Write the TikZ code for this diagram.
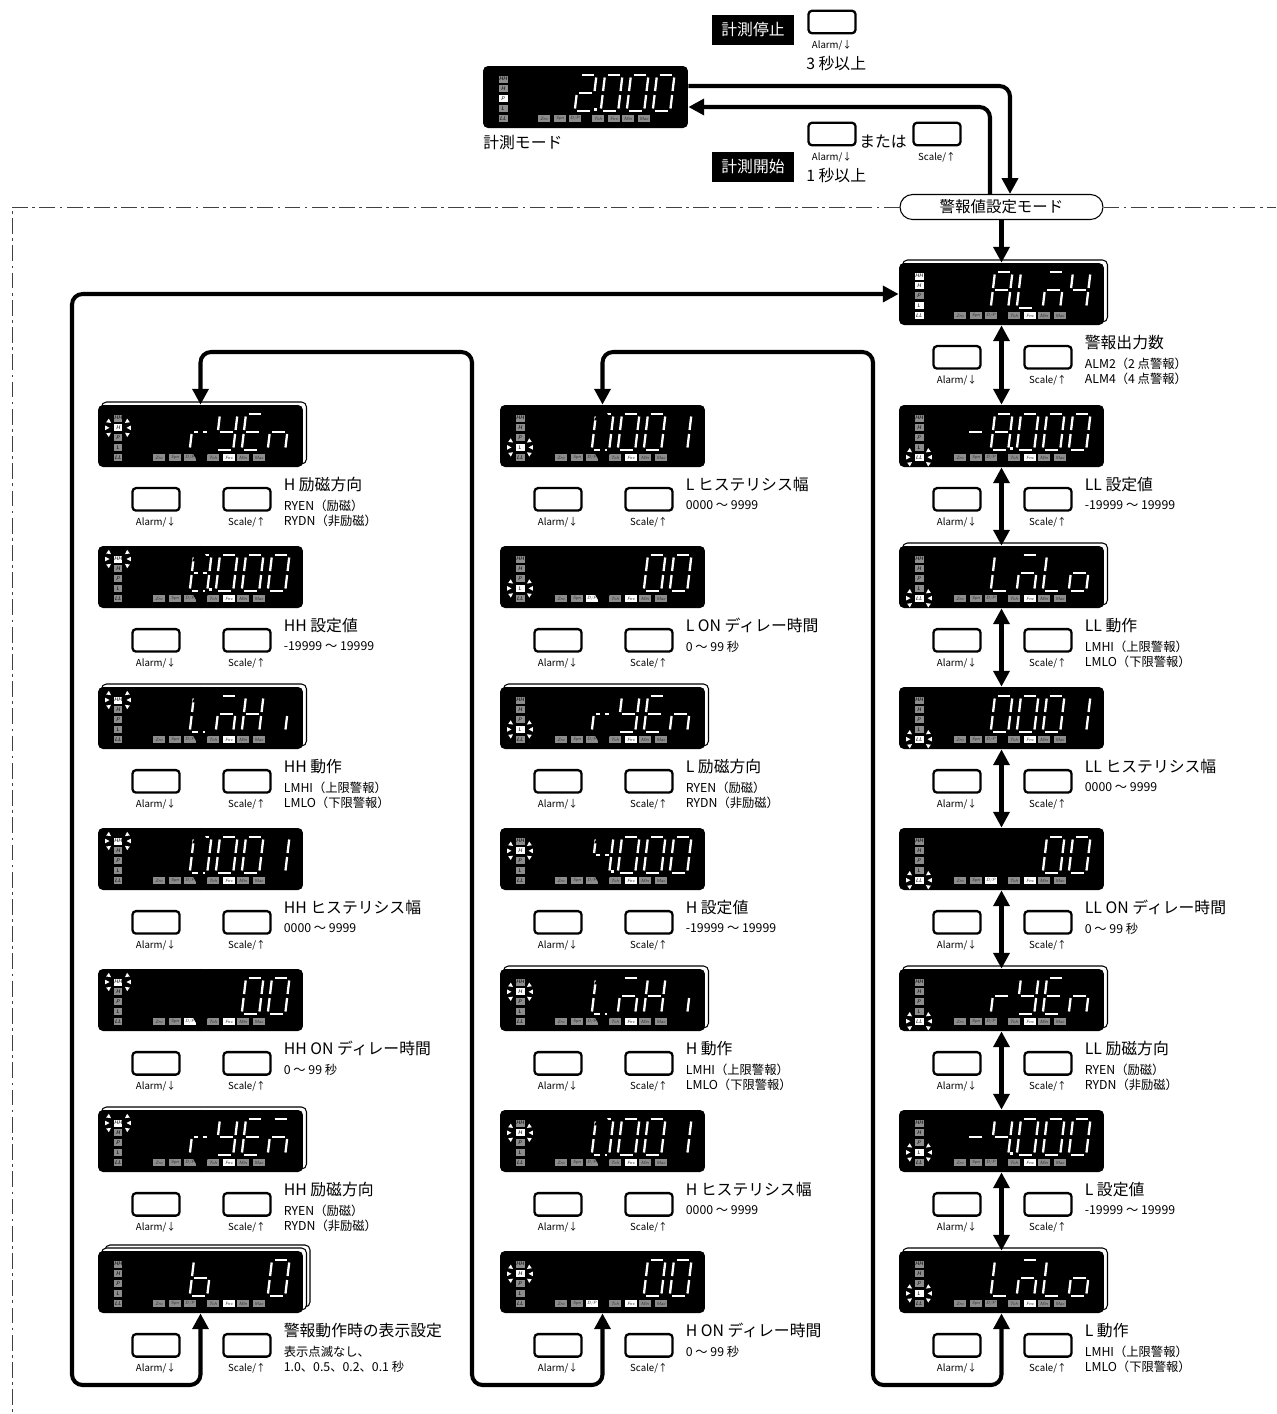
\documentclass[tikz,border=0pt]{standalone}
\usepackage{fontspec}
\newfontfamily\jpfont{Noto Sans CJK JP}
\usetikzlibrary{arrows.meta, positioning, calc}

\colorlet{dim}{black!45}
\colorlet{lit}{white}

% segments of the 7-segment characters
\newcommand{\defglyph}[2]{\expandafter\def\csname sg#1\endcsname{#2}}
\defglyph{0}{a,b,c,d,e,f}
\defglyph{1}{b,c}
\defglyph{2}{a,b,g,e,d}
\defglyph{4}{f,g,b,c}
\defglyph{8}{a,b,c,d,e,f,g}
\defglyph{A}{a,b,c,e,f,g}
\defglyph{L}{f,e,d}
\defglyph{M}{a,g,e,c}
\defglyph{Y}{f,g,b,c,d}
\defglyph{E}{a,f,g,e,d}
\defglyph{n}{g,e,c}
\defglyph{r}{g,e}
\defglyph{H}{f,e,b,c,g}
\defglyph{i}{c}
\defglyph{o}{g,e,c,d}
\defglyph{b}{f,e,d,c,g}
\defglyph{-}{g}

% lamp and tab states
\def\lampsrun{dim,dim,lit,dim,dim}
\def\lampsall{lit,lit,dim,lit,lit}
\def\lampsnone{dim,dim,dim,dim,dim}
\def\lampsHH{lit,dim,dim,dim,dim}
\def\lampsH{dim,lit,dim,dim,dim}
\def\lampsL{dim,dim,dim,lit,dim}
\def\lampsLL{dim,dim,dim,dim,lit}
\def\tabsrun{dim,dim,dim,dim,dim,dim,dim}
\def\tabsset{dim,dim,dim,dim,lit,dim,dim}
\def\tabsdly{dim,dim,lit,dim,lit,dim,dim}

\newcommand{\segdigit}[3]{%
  \begin{scope}[shift={(#1,#2)}, xslant=0.12]
    \coordinate (a1) at (2.5,0);  \coordinate (a2) at (15,0);
    \coordinate (b1) at (17.5,2.5); \coordinate (b2) at (17.5,16);
    \coordinate (c1) at (17.5,20);  \coordinate (c2) at (17.5,33.5);
    \coordinate (d1) at (2.5,36); \coordinate (d2) at (15,36);
    \coordinate (e1) at (0,20);   \coordinate (e2) at (0,33.5);
    \coordinate (f1) at (0,2.5);  \coordinate (f2) at (0,16);
    \coordinate (g1) at (2.5,18); \coordinate (g2) at (15,18);
    \expandafter\let\expandafter\segs\csname sg#3\endcsname
    \foreach \sg in \segs {\draw[segline] (\sg1) -- (\sg2);}
  \end{scope}}

% name, x, y (top left), cards behind, lamps, blinking lamp, tabs, characters
\newcommand{\lcdpanel}[8]{%
  \ifnum#4>1 \draw[card] (#2+7,#3-6) rectangle ++(205,62); \fi
  \ifnum#4>0 \draw[card] (#2+3.5,#3-3) rectangle ++(205,62); \fi
  \node[panelbox] (#1) at (#2+102.5,#3+31) {};
  \foreach \lc [count=\ri] in #5
    \node[lamp, fill=\lc] (#1l\ri) at (#2+20,#3+13+9.8*\ri-9.8)
      {\ifcase\ri\or HH\or H\or P\or L\or LL\fi};
  \ifnum#6>0
    \foreach \ang in {0,35,145,180,215,325}
      \fill[white, shift={(#2+20,#3+13+9.8*#6-9.8)}]
        (\ang:8.5) -- (\ang+10:13) -- (\ang-10:13) -- cycle;
  \fi
  \foreach \bc [count=\bi] in #7 {
    \pgfmathsetmacro\bx{{61,77,92,115,131,145,161}[\bi-1]}
    \node[tab, fill=\bc] (#1b\bi) at (#2+\bx,#3+52.5)
      {\ifcase\bi\or Zro\or Spn\or D/P\or Tch\or Fnc\or Min\or Max\fi};}
  \foreach \dpos/\dgl in {#8} {
    \if.\dgl \fill[white] (#2+96+26*\dpos-26+15,#3+42) rectangle ++(3,3);
    \else \segdigit{#2+96+26*\dpos-26}{#3+9}{\dgl}\fi}
}

% keys and texts under a panel
\newcommand{\stepkeys}[4]{%
  \node[key] (#1a) at ($(#1.south)+(-44.5,32)$) {};
  \node[keylabel, below=3pt of #1a] (#1al) {Alarm/↓};
  \node[key] (#1s) at ($(#1.south)+(46.5,32)$) {};
  \node[keylabel, below=3pt of #1s] (#1sl) {Scale/↑};
  \node[stitle] (#1t) at ($(#1.south)+(83,17)$) {#2};
  \node[sline] (#1u) at ($(#1.south)+(83,38)$) {#3};
  \node[sline] (#1v) at ($(#1.south)+(83,53)$) {#4};}

\begin{document}
\begin{tikzpicture}[
    x=0.02cm, y=-0.02cm,
    panelbox/.style={rectangle, fill=black, rounded corners=2.8pt,
      minimum width=4.1cm, minimum height=1.24cm, inner sep=0},
    card/.style={draw=black, fill=white, line width=0.6pt, rounded corners=2.8pt},
    lamp/.style={rectangle, inner sep=0, minimum width=0.18cm,
      minimum height=0.14cm, text=black, font=\sffamily\itshape\fontsize{3}{3}\selectfont},
    tab/.style={rectangle, inner sep=0, minimum width=0.23cm,
      minimum height=0.13cm, text=black!80, font=\sffamily\itshape\fontsize{2.6}{3}\selectfont},
    segline/.style={draw=white, line width=1.3pt, line cap=butt},
    key/.style={draw, line width=1.3pt, rounded corners=2pt, fill=white,
      minimum width=0.94cm, minimum height=0.45cm, inner sep=0},
    keylabel/.style={inner sep=0, font=\jpfont\fontsize{5.5}{6}\selectfont},
    stitle/.style={anchor=west, inner sep=0, font=\jpfont\fontsize{9}{10}\selectfont},
    sline/.style={anchor=west, inner sep=0, font=\jpfont\fontsize{7}{8}\selectfont},
    note/.style={inner sep=0, font=\jpfont\fontsize{9}{10}\selectfont},
    tag/.style={fill=black, text=white, minimum width=1.66cm, minimum height=0.6cm,
      inner sep=0, font=\jpfont\fontsize{9}{10}\selectfont},
    pill/.style={draw, line width=0.6pt, fill=white, rounded corners=0.25cm,
      minimum width=4.06cm, minimum height=0.5cm, inner sep=0,
      font=\jpfont\fontsize{8.8}{10}\selectfont},
    dashdot/.style={draw=black!75, line width=0.5pt,
      dash pattern=on 9pt off 2.5pt on 1.5pt off 2.5pt},
    flow/.style={line width=2.3pt, rounded corners=6pt,
      -{Triangle[length=9pt,width=9pt]}},
    dbl/.style={line width=2.3pt, rounded corners=6pt,
      {Triangle[length=9pt,width=9pt]}-{Triangle[length=9pt,width=9pt]}}
]
\useasboundingbox (0,0) rectangle (1276,1414);

% measuring mode
\lcdpanel{main}{483}{66}{0}{\lampsrun}{0}{\tabsrun}{1/2,1/.,2/0,3/0,4/0}
\node[note, anchor=west] (mainname) at (483,143) {計測モード};

\node[tag] (stop) at (753,30) {計測停止};
\node[key] (stopkey) at (832,22) {};
\node[keylabel, below=3pt of stopkey] (stopkeyl) {Alarm/↓};
\node[note, anchor=west] (stoptime) at (806,64) {3 秒以上};

\node[tag] (start) at (753,167) {計測開始};
\node[key] (startkey) at (832,134) {};
\node[keylabel, below=3pt of startkey] (startkeyl) {Alarm/↓};
\node[note, anchor=west] (startor) at (859,142) {または};
\node[key] (startkey2) at (937,134) {};
\node[keylabel, below=3pt of startkey2] (startkey2l) {Scale/↑};
\node[note, anchor=west] (starttime) at (806,176) {1 秒以上};

% alarm value setting mode
\node[pill] (mode) at (1001.5,207) {警報値設定モード};
\draw[dashdot] (mode.west) -- (12,207) -- (12,1414);
\draw[dashdot] (mode.east) -- (1276,207);

% right column
\lcdpanel{r1}{899}{263}{1}{\lampsall}{0}{\tabsset}{1/A,2/L,3/M,4/4}
\lcdpanel{r2}{899}{405}{0}{\lampsLL}{5}{\tabsset}{0/-,1/8,1/.,2/0,3/0,4/0}
\lcdpanel{r3}{899}{546}{1}{\lampsLL}{5}{\tabsset}{1/L,2/M,3/L,4/o}
\lcdpanel{r4}{899}{687}{0}{\lampsLL}{5}{\tabsset}{1/0,2/0,3/0,4/1}
\lcdpanel{r5}{899}{828}{0}{\lampsLL}{5}{\tabsdly}{3/0,4/0}
\lcdpanel{r6}{899}{969}{1}{\lampsLL}{5}{\tabsset}{1/r,2/Y,3/E,4/n}
\lcdpanel{r7}{899}{1110}{0}{\lampsL}{4}{\tabsset}{0/-,1/4,1/.,2/0,3/0,4/0}
\lcdpanel{r8}{899}{1251}{1}{\lampsL}{4}{\tabsset}{1/L,2/M,3/L,4/o}

\stepkeys{r1}{警報出力数}{ALM2（2 点警報）}{ALM4（4 点警報）}
\stepkeys{r2}{LL 設定値}{-19999 ～ 19999}{}
\stepkeys{r3}{LL 動作}{LMHI（上限警報）}{LMLO（下限警報）}
\stepkeys{r4}{LL ヒステリシス幅}{0000 ～ 9999}{}
\stepkeys{r5}{LL ON ディレー時間}{0 ～ 99 秒}{}
\stepkeys{r6}{LL 励磁方向}{RYEN（励磁）}{RYDN（非励磁）}
\stepkeys{r7}{L 設定値}{-19999 ～ 19999}{}
\stepkeys{r8}{L 動作}{LMHI（上限警報）}{LMLO（下限警報）}

% left column
\lcdpanel{l1}{98}{405}{1}{\lampsH}{2}{\tabsset}{1/r,2/Y,3/E,4/n}
\lcdpanel{l2}{98}{546}{0}{\lampsHH}{1}{\tabsset}{1/8,1/.,2/0,3/0,4/0}
\lcdpanel{l3}{98}{687}{1}{\lampsHH}{1}{\tabsset}{1/L,2/M,3/H,4/i}
\lcdpanel{l4}{98}{828}{0}{\lampsHH}{1}{\tabsset}{1/0,2/0,3/0,4/1}
\lcdpanel{l5}{98}{969}{0}{\lampsHH}{1}{\tabsdly}{3/0,4/0}
\lcdpanel{l6}{98}{1110}{1}{\lampsHH}{1}{\tabsset}{1/r,2/Y,3/E,4/M}
\lcdpanel{l7}{98}{1251}{2}{\lampsnone}{0}{\tabsset}{1/b,4/0}

\stepkeys{l1}{H 励磁方向}{RYEN（励磁）}{RYDN（非励磁）}
\stepkeys{l2}{HH 設定値}{-19999 ～ 19999}{}
\stepkeys{l3}{HH 動作}{LMHI（上限警報）}{LMLO（下限警報）}
\stepkeys{l4}{HH ヒステリシス幅}{0000 ～ 9999}{}
\stepkeys{l5}{HH ON ディレー時間}{0 ～ 99 秒}{}
\stepkeys{l6}{HH 励磁方向}{RYEN（励磁）}{RYDN（非励磁）}
\stepkeys{l7}{警報動作時の表示設定}{表示点滅なし、}{1.0、0.5、0.2、0.1 秒}

% middle column
\lcdpanel{m1}{500}{405}{0}{\lampsL}{4}{\tabsset}{1/0,2/0,3/0,4/1}
\lcdpanel{m2}{500}{546}{0}{\lampsL}{4}{\tabsdly}{3/0,4/0}
\lcdpanel{m3}{500}{687}{1}{\lampsL}{4}{\tabsset}{1/r,2/Y,3/E,4/n}
\lcdpanel{m4}{500}{828}{0}{\lampsH}{2}{\tabsset}{1/4,1/.,2/0,3/0,4/0}
\lcdpanel{m5}{500}{969}{1}{\lampsH}{2}{\tabsset}{1/L,2/M,3/H,4/i}
\lcdpanel{m6}{500}{1110}{0}{\lampsH}{2}{\tabsset}{1/0,2/0,3/0,4/1}
\lcdpanel{m7}{500}{1251}{0}{\lampsH}{2}{\tabsdly}{3/0,4/0}

\stepkeys{m1}{L ヒステリシス幅}{0000 ～ 9999}{}
\stepkeys{m2}{L ON ディレー時間}{0 ～ 99 秒}{}
\stepkeys{m3}{L 励磁方向}{RYEN（励磁）}{RYDN（非励磁）}
\stepkeys{m4}{H 設定値}{-19999 ～ 19999}{}
\stepkeys{m5}{H 動作}{LMHI（上限警報）}{LMLO（下限警報）}
\stepkeys{m6}{H ヒステリシス幅}{0000 ～ 9999}{}
\stepkeys{m7}{H ON ディレー時間}{0 ～ 99 秒}{}

% connectors
\draw[flow] ([yshift=0.22cm]main.east) -| ([xshift=0.17cm]mode.north);
\draw[flow] ([xshift=-0.23cm]mode.north) |- ([yshift=-0.2cm]main.east);
\draw[flow] (mode.south) -- (r1.north);

\foreach \col in {l,m}
  \foreach \i [evaluate=\i as \j using int(\i+1)] in {1,...,6}
    \draw[dbl] (\col\i.south) -- (\col\j.north);
\foreach \i [evaluate=\i as \j using int(\i+1)] in {1,...,7}
  \draw[dbl] (r\i.south) -- (r\j.north);

\draw[dbl] (l7.south) |- (72,1385) |- (r1.west);
\draw[dbl] (l1.north) |- (472,352) -- (472,1385) -| (m7.south);
\draw[dbl] (m1.north) |- (873,352) -- (873,1385) -| (r8.south);

\end{tikzpicture}
\end{document}
